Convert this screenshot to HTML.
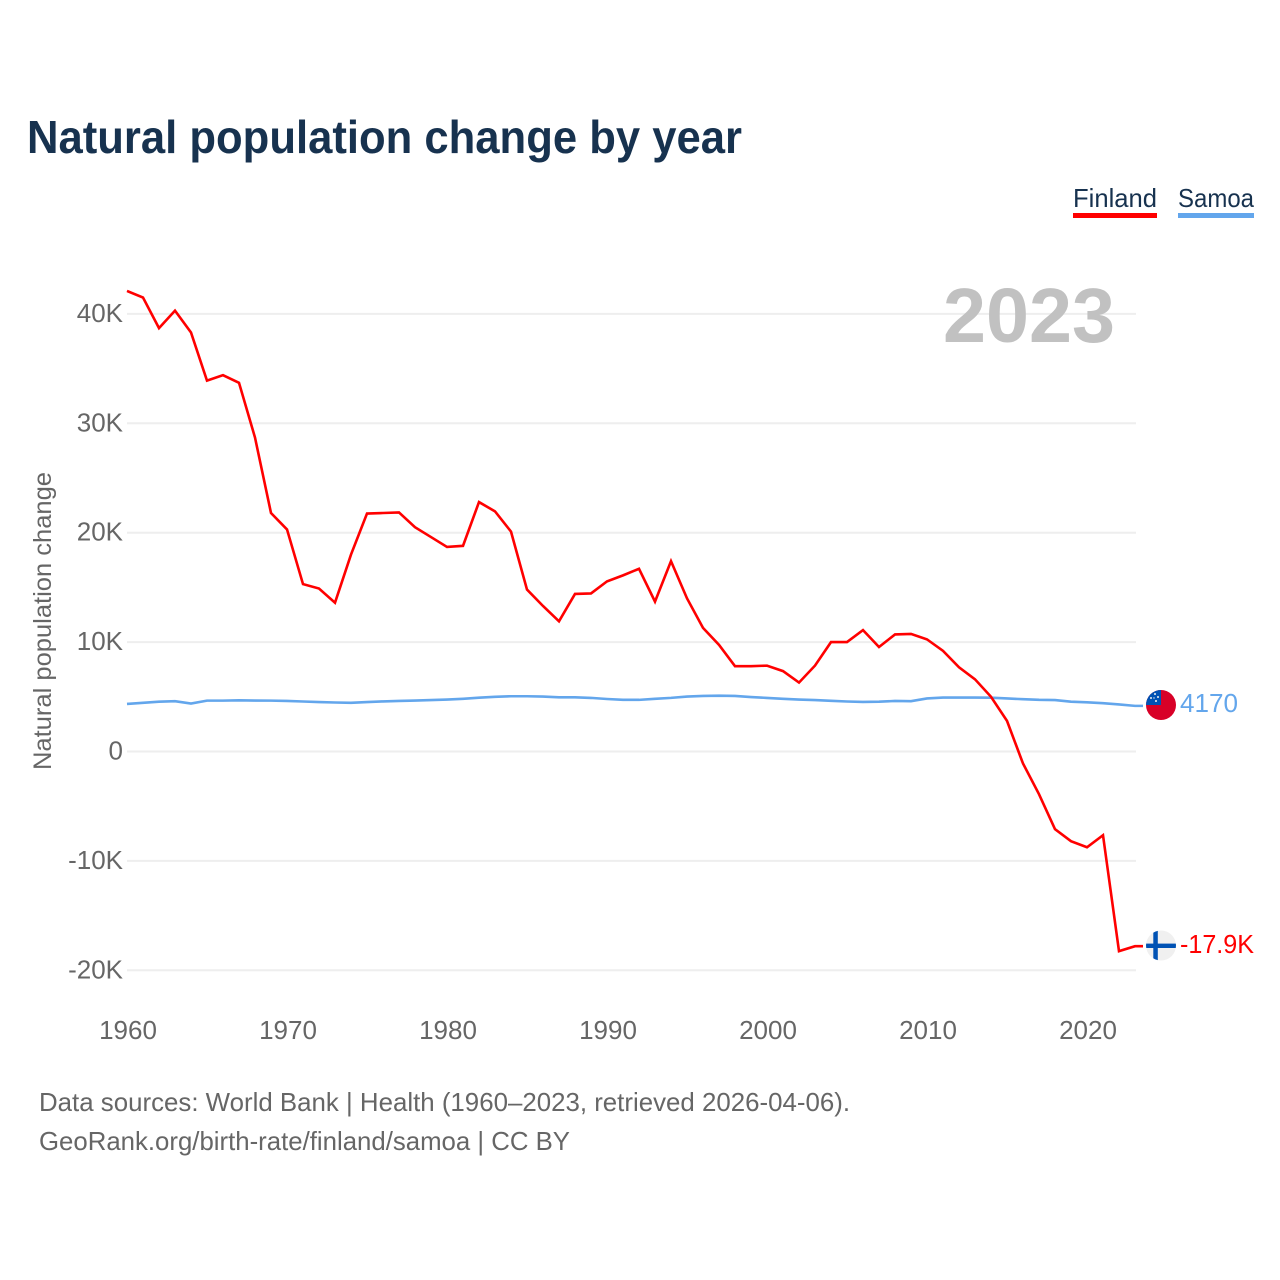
<!DOCTYPE html>
<html lang="en">
<head>
<meta charset="utf-8">
<title>Natural population change by year</title>
<style>
html,body{margin:0;padding:0;background:#fff;}
svg{display:block;}
text{font-family:"Liberation Sans",sans-serif;}
</style>
</head>
<body>
<svg id="chart" width="1280" height="1280" viewBox="0 0 1280 1280" xmlns="http://www.w3.org/2000/svg">
  <text x="27" y="153" font-size="46" font-weight="700" fill="#17324f" textLength="715" lengthAdjust="spacingAndGlyphs">Natural population change by year</text>

  <g>
    <text x="1073" y="207" font-size="26" fill="#17324f" textLength="84" lengthAdjust="spacingAndGlyphs">Finland</text>
    <rect x="1073" y="213" width="84" height="5" fill="#ff0000"/>
  </g>
  <g>
    <text x="1178" y="207" font-size="26" fill="#17324f" textLength="76" lengthAdjust="spacingAndGlyphs">Samoa</text>
    <rect x="1178" y="213" width="76" height="5" fill="#63a6ec"/>
  </g>

  <g id="grid"></g>
  <text x="1115" y="342" font-size="77" font-weight="700" fill="#c1c1c1" text-anchor="end" textLength="172" lengthAdjust="spacingAndGlyphs">2023</text>
  <g id="yticks"></g>
  <g id="xticks"></g>
  <text transform="translate(51,621) rotate(-90)" font-size="25" fill="#666666" text-anchor="middle" textLength="298" lengthAdjust="spacingAndGlyphs">Natural population change</text>

  <g id="series"></g>

  <g>
    <clipPath id="clip-ws"><circle cx="1161" cy="705" r="15"/></clipPath>
    <g clip-path="url(#clip-ws)">
      <rect x="1146" y="690" width="30" height="30" fill="#d80027"/>
      <rect x="1146" y="690" width="15" height="15" fill="#0052b4"/>
      <circle cx="1155" cy="694" r="1" fill="#f0f0f0"/>
      <circle cx="1151" cy="698" r="1" fill="#f0f0f0"/>
      <circle cx="1158" cy="697" r="1" fill="#f0f0f0"/>
      <circle cx="1156" cy="701" r="1" fill="#f0f0f0"/>
      <circle cx="1154" cy="698" r=".7" fill="#f0f0f0"/>
    </g>
  </g>
  <g>
    <clipPath id="clip-fi"><circle cx="1161" cy="945.5" r="15"/></clipPath>
    <g clip-path="url(#clip-fi)">
      <rect x="1146" y="930" width="30" height="31" fill="#f0f0f0"/>
      <rect x="1153.3" y="930" width="4.5" height="31" fill="#0052b4"/>
      <rect x="1146" y="943.6" width="30" height="4.4" fill="#0052b4"/>
    </g>
  </g>
  <g id="endlabels"></g>

  <text x="39" y="1111" font-size="26" fill="#666666" textLength="811" lengthAdjust="spacingAndGlyphs">Data sources: World Bank | Health (1960–2023, retrieved 2026-04-06).</text>
  <text x="39" y="1150" font-size="26" fill="#666666" textLength="531" lengthAdjust="spacingAndGlyphs">GeoRank.org/birth-rate/finland/samoa | CC BY</text>
</svg>
<script>
const startYear = 1960;
const endYear = 2023;
const xTickYears = [1960, 1970, 1980, 1990, 2000, 2010, 2020];
const yTickValues = [40, 30, 20, 10, 0, -10, -20];
const yTickLabels = ["40K", "30K", "20K", "10K", "0", "-10K", "-20K"];
const finlandValues = [42.1,41.5,38.7,40.3,38.3,33.9,34.4,33.7,28.7,21.8,20.3,15.3,14.9,13.6,18.0,21.75,21.8,21.85,20.5,19.6,18.7,18.8,22.8,21.95,20.1,14.8,13.3,11.9,14.4,14.45,15.55,16.1,16.7,13.7,17.4,14.0,11.3,9.75,7.8,7.8,7.85,7.35,6.3,7.85,10.0,10.0,11.1,9.55,10.7,10.75,10.25,9.2,7.7,6.6,5.0,2.8,-1.1,-3.9,-7.1,-8.2,-8.75,-7.65,-18.25,-17.8];
const samoaValues = [4.35,4.45,4.55,4.6,4.38,4.65,4.65,4.68,4.66,4.65,4.62,4.57,4.52,4.48,4.45,4.52,4.58,4.62,4.66,4.7,4.75,4.82,4.92,5.0,5.05,5.05,5.02,4.95,4.95,4.9,4.8,4.72,4.72,4.82,4.9,5.02,5.08,5.1,5.08,4.98,4.9,4.82,4.75,4.7,4.63,4.57,4.53,4.55,4.62,4.6,4.85,4.93,4.93,4.93,4.92,4.85,4.78,4.72,4.7,4.55,4.5,4.42,4.3,4.17];
const finlandEndLabel = "-17.9K";
const samoaEndLabel = "4170";

const NS = "http://www.w3.org/2000/svg";
const plotLeft = 127, plotRight = 1135;
function xScale(year) {
  return plotLeft + (year - startYear) * (plotRight - plotLeft) / (endYear - startYear);
}
function yScale(v) {
  return 751.5 - v * 10.94;
}
function make(tag, attrs, parent) {
  const el = document.createElementNS(NS, tag);
  for (const k in attrs) el.setAttribute(k, attrs[k]);
  parent.appendChild(el);
  return el;
}

const gridGroup = document.getElementById("grid");
const yTickGroup = document.getElementById("yticks");
const xTickGroup = document.getElementById("xticks");
const seriesGroup = document.getElementById("series");
const endGroup = document.getElementById("endlabels");

yTickValues.forEach(function (v, i) {
  const line = make("line", {x1: plotLeft, x2: plotRight + 1, y1: yScale(v), y2: yScale(v), stroke: "#eeeeee", "stroke-width": 2}, gridGroup);
  
  
  const t = make("text", {x: 123, y: yScale(v) + 8, "font-size": 26, fill: "#666666", "text-anchor": "end"}, yTickGroup);
  t.textContent = yTickLabels[i];
  
  
});

xTickYears.forEach(function (yr) {
  const t = make("text", {x: xScale(yr) + 1, y: 1039, "font-size": 26, fill: "#666666", "text-anchor": "middle"}, xTickGroup);
  t.textContent = String(yr);
  
  
});

function drawSeries(values, color) {
  const pts = values.map(function (v, i) {
    return xScale(startYear + i).toFixed(2) + "," + yScale(v).toFixed(2);
  });
  const lastY = yScale(values[values.length - 1]).toFixed(2);
  pts.push("1143," + lastY);
  return make("polyline", {points: pts.join(" "), fill: "none", stroke: color, "stroke-width": 2.6, "stroke-linejoin": "miter"}, seriesGroup);
}
const samoaLine = drawSeries(samoaValues, "#63a6ec");


const finlandLine = drawSeries(finlandValues, "#ff0000");



const samoaLabel = make("text", {x: 1180, y: yScale(samoaValues[samoaValues.length - 1]) + 6, "font-size": 26, fill: "#63a6ec", textLength: 58, lengthAdjust: "spacingAndGlyphs"}, endGroup);
samoaLabel.textContent = samoaEndLabel;


const finlandLabel = make("text", {x: 1180, y: yScale(finlandValues[finlandValues.length - 1]) + 7, "font-size": 26, fill: "#ff0000", textLength: 74, lengthAdjust: "spacingAndGlyphs"}, endGroup);
finlandLabel.textContent = finlandEndLabel;


</script>
</body>
</html>
